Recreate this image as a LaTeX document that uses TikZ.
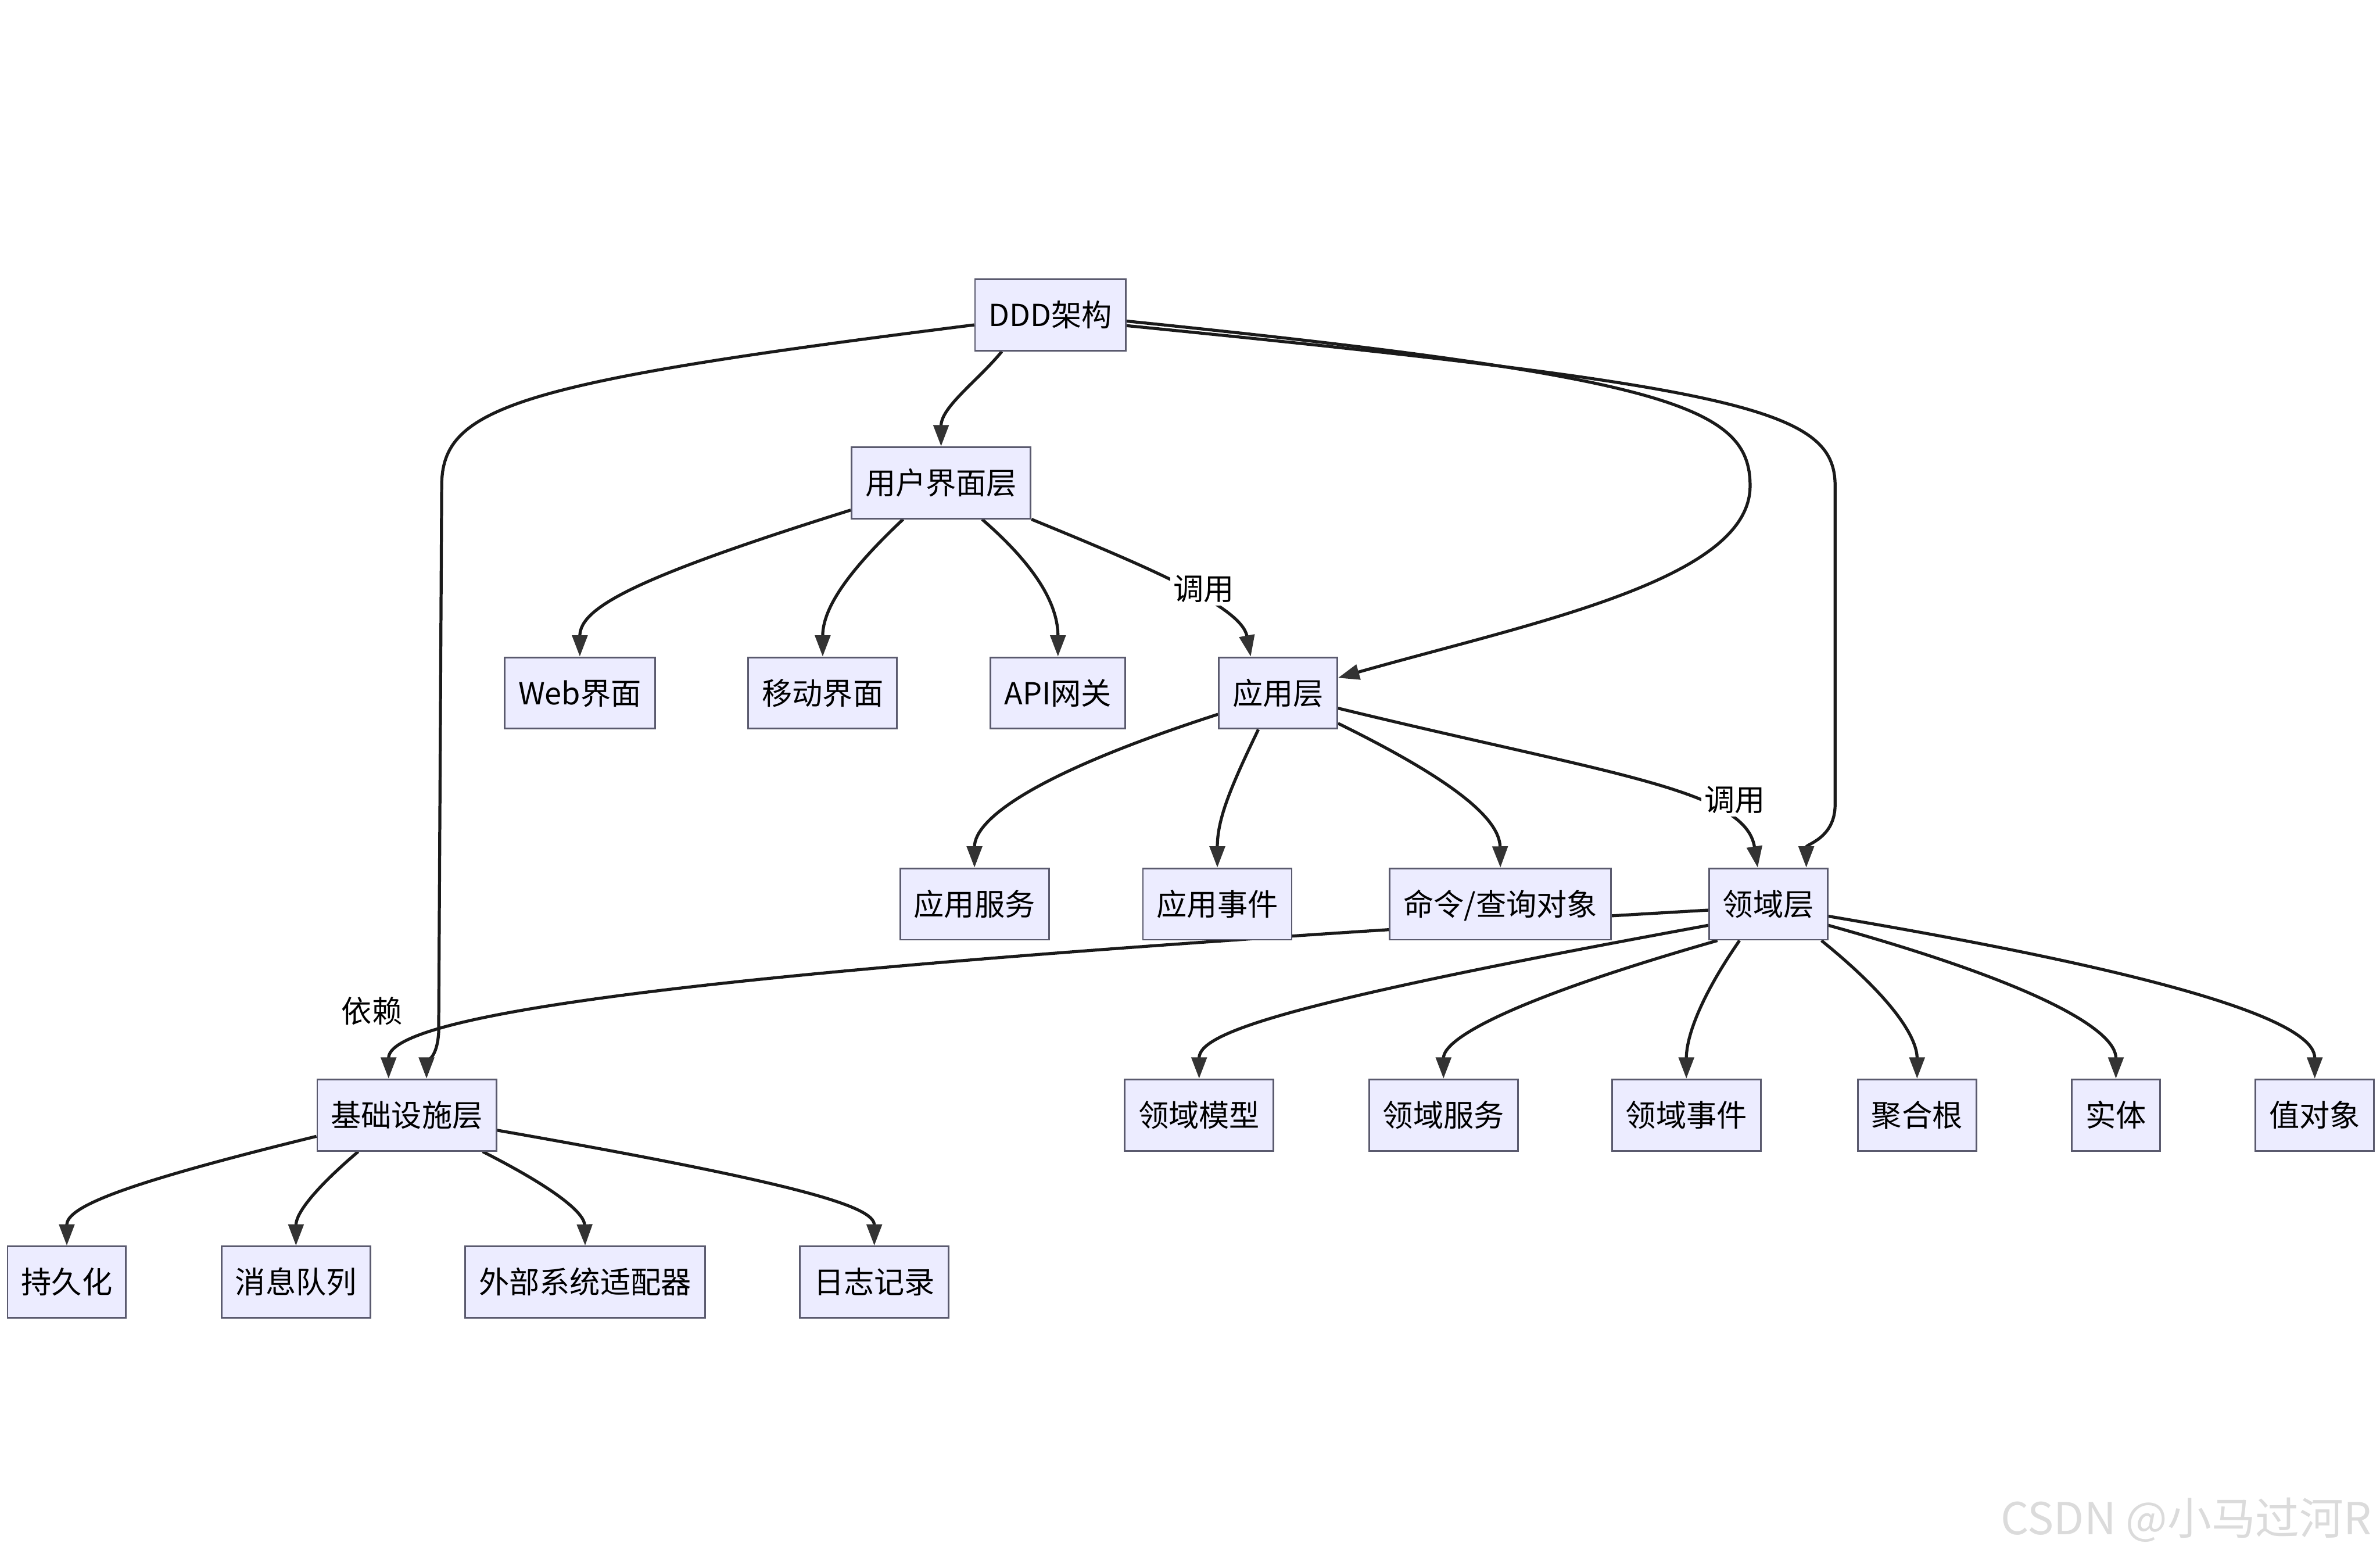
\documentclass[tikz,border=0pt]{standalone}
\usepackage{fontspec}
\setmainfont{Noto Sans CJK SC}
\usetikzlibrary{arrows.meta,calc}
\definecolor{nodefill}{HTML}{ECECFF}
\definecolor{nodedraw}{HTML}{5A5A6E}
\definecolor{linec}{HTML}{1A1A1A}
\definecolor{tipc}{HTML}{333333}
\pgfdeclarelayer{bg}
\pgfsetlayers{bg,main}
\begin{document}
\begin{tikzpicture}[x=1pt,y=-1pt,
  box/.style={draw=nodedraw, fill=nodefill, line width=1.1pt, minimum height=47pt,
    inner xsep=9pt, inner ysep=0pt, text height=17.6pt, text depth=2.4pt,
    font=\fontsize{20}{24}\selectfont},
  conn/.style={draw=linec, line width=2pt,
    -{Triangle[length=14pt,width=10pt,fill=tipc,color=tipc]}},
  lbl/.style={fill=white, inner sep=2pt, font=\fontsize{20}{24}\selectfont}]
\useasboundingbox (0,0) rectangle (1568,1028);

\node[box] (ddd) at (692,207.5) {DDD架构};
\node[box] (ui) at (620,318) {用户界面层};
\node[box] (web) at (382,456.5) {Web界面};
\node[box] (mob) at (542,456.5) {移动界面};
\node[box] (api) at (697,456.5) {API网关};
\node[box] (app) at (842,456.5) {应用层};
\node[box] (asvc) at (642,595.5) {应用服务};
\node[box] (aevt) at (802,595.5) {应用事件};
\node[box] (cqo) at (988.5,595.5) {命令/查询对象};
\node[box] (dom) at (1165,595.5) {领域层};
\node[box] (infra) at (268,734.5) {基础设施层};
\node[box] (dmodel) at (790,734.5) {领域模型};
\node[box] (dsvc) at (951,734.5) {领域服务};
\node[box] (devt) at (1111,734.5) {领域事件};
\node[box] (agg) at (1263,734.5) {聚合根};
\node[box] (ent) at (1394,734.5) {实体};
\node[box] (vo) at (1525,734.5) {值对象};
\node[box] (pers) at (44,844.5) {持久化};
\node[box] (mq) at (195,844.5) {消息队列};
\node[box] (ext) at (385.5,844.5) {外部系统适配器};
\node[box] (log) at (576,844.5) {日志记录};

\begin{pgfonlayer}{bg}
\fill[white] (0,0) rectangle (1568,1028);
% DDD
\draw[conn] ($(ddd.south)+(-32,0)$) .. controls (645,250) and (620,268) .. (ui.north);
\draw[conn] ($(ddd.west)+(0,6.5)$) .. controls (340,252) and (291,268) .. (291,320)
  -- (289,680) .. controls (288,697) and (281,700) .. ($(infra.north)+(13,0)$);
\draw[conn] ($(ddd.east)+(0,4)$) .. controls (1100,248) and (1153,268) .. (1153,320)
  .. controls (1153,382) and (1010,410) .. ($(app.east)+(0,-10)$);
\draw[conn] ($(ddd.east)+(0,7)$) .. controls (1150,255) and (1209,270) .. (1209,320)
  -- (1209,530) .. controls (1209,552) and (1190,556) .. ($(dom.north)+(25,0)$);
% UI
\draw[conn] ($(ui.west)+(0,18)$) .. controls (420,380) and (382,400) .. (web.north);
\draw[conn] ($(ui.south)+(-25,0)$) .. controls (560,375) and (542,400) .. (mob.north);
\draw[conn] ($(ui.south)+(27,0)$) .. controls (685,375) and (697,400) .. (api.north);
\draw[conn] (ui.south east) .. controls (760,375) and (818,400) .. ($(app.north)+(-18,0)$);
% app
\draw[conn] ($(app.west)+(0,14)$) .. controls (680,510) and (642,540) .. (asvc.north);
\draw[conn] ($(app.south)+(-13,0)$) .. controls (810,520) and (802,540) .. (aevt.north);
\draw[conn] ($(app.east)+(0,20)$) .. controls (960,515) and (988,540) .. (cqo.north);
\draw[conn] ($(app.east)+(0,10)$) .. controls (1060,510) and (1150,520) .. ($(dom.north)+(-7,0)$);
% domain
\draw[conn] ($(dom.west)+(0,4)$) .. controls (600,630) and (256,660) .. ($(infra.north)+(-12,0)$);
\draw[conn] ($(dom.west)+(0,14)$) .. controls (850,660) and (790,680) .. (dmodel.north);
\draw[conn] ($(dom.south west)+(6,0)$) .. controls (990,660) and (951,685) .. (dsvc.north);
\draw[conn] ($(dom.south)+(-19,0)$) .. controls (1118,660) and (1111,685) .. (devt.north);
\draw[conn] ($(dom.south)+(35,0)$) .. controls (1250,660) and (1263,685) .. (agg.north);
\draw[conn] ($(dom.east)+(0,14)$) .. controls (1350,650) and (1394,680) .. (ent.north);
\draw[conn] ($(dom.east)+(0,8)$) .. controls (1480,650) and (1525,680) .. (vo.north);
% infra
\draw[conn] ($(infra.west)+(0,14)$) .. controls (80,780) and (44,795) .. (pers.north);
\draw[conn] ($(infra.south)+(-32,0)$) .. controls (205,785) and (195,800) .. (mq.north);
\draw[conn] ($(infra.south)+(50,0)$) .. controls (370,785) and (385,800) .. (ext.north);
\draw[conn] ($(infra.east)+(0,10)$) .. controls (530,780) and (576,795) .. (log.north);
\end{pgfonlayer}

\node[lbl] (l1) at (793,388) {调用};
\node[lbl] (l2) at (1143,527) {调用};
\node[lbl] (l3) at (245,666) {依赖};

\node[anchor=east, text=black!14, font=\fontsize{29}{34}\selectfont] (wm) at (1566,1001) {CSDN @小马过河R};
\end{tikzpicture}
\end{document}
